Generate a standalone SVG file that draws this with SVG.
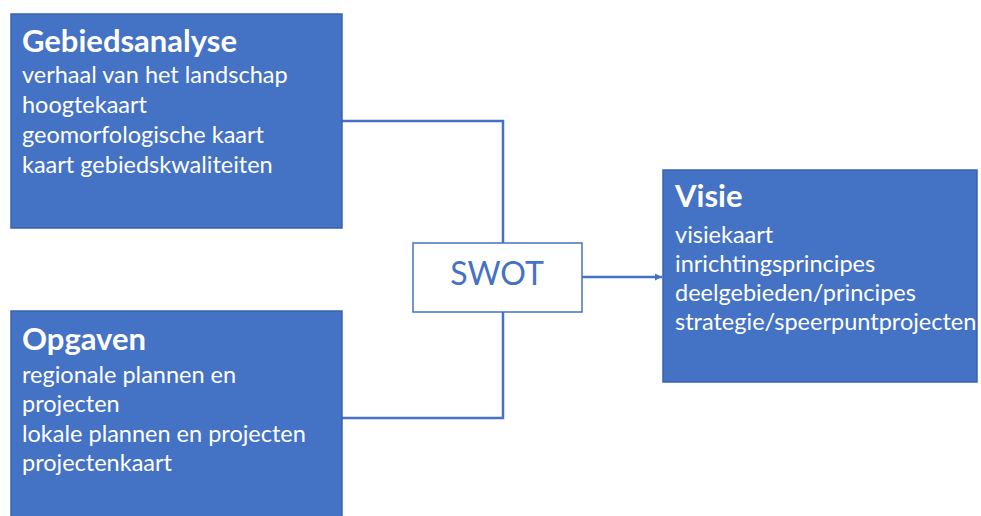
<svg xmlns="http://www.w3.org/2000/svg" width="981" height="516" viewBox="0 0 981 516">
<style>
.box{fill:#4472C4;stroke:#3A62AD;stroke-width:1.5}
.t{fill:#FFFFFF;font-family:Lato,"Open Sans",sans-serif;font-weight:bold;font-size:31px}
.b{fill:#FFFFFF;font-family:Lato,"Open Sans",sans-serif;font-size:23.5px}
.c{fill:none;stroke:#4472C4;stroke-width:2.5}
</style>
<defs>
<marker id="ah" viewBox="0 0 10 10" refX="10" refY="5" markerWidth="3" markerHeight="3" orient="auto" markerUnits="strokeWidth">
<path d="M0,0 L10,5 L0,10 z" fill="#4472C4"/>
</marker>
</defs>
<rect width="981" height="516" fill="#FFFFFF"/>
<g id="connectors">
<polyline class="c" points="342,121 503,121 503,243"/>
<polyline class="c" points="503,312 503,418 342,418"/>
<line class="c" x1="582" y1="277" x2="662" y2="277" marker-end="url(#ah)"/>
</g>
<g id="gebiedsanalyse">
<rect class="box" x="11" y="14" width="331" height="214"/>
<text class="t" x="22" y="52">Gebiedsanalyse</text>
<text class="b" x="22" y="83">verhaal van het landschap</text>
<text class="b" x="22" y="113">hoogtekaart</text>
<text class="b" x="22" y="143">geomorfologische kaart</text>
<text class="b" x="22" y="173">kaart gebiedskwaliteiten</text>
</g>
<g id="opgaven">
<rect class="box" x="11" y="311" width="331" height="210"/>
<text class="t" x="22" y="350">Opgaven</text>
<text class="b" x="22" y="383">regionale plannen en</text>
<text class="b" x="22" y="412">projecten</text>
<text class="b" x="22" y="442">lokale plannen en projecten</text>
<text class="b" x="22" y="471">projectenkaart</text>
</g>
<g id="swot">
<rect x="413" y="243" width="169" height="69" fill="#FFFFFF" stroke="#4472C4" stroke-width="1.5"/>
<text x="497" y="285" text-anchor="middle" fill="#4472C4" font-family="Lato,'Open Sans',sans-serif" font-size="32px">SWOT</text>
</g>
<g id="visie">
<rect class="box" x="663" y="170" width="314" height="212"/>
<text class="t" x="675" y="207">Visie</text>
<text class="b" x="675" y="243">visiekaart</text>
<text class="b" x="675" y="272">inrichtingsprincipes</text>
<text class="b" x="675" y="301">deelgebieden/principes</text>
<text class="b" x="675" y="330">strategie/speerpuntprojecten</text>
</g>
</svg>
